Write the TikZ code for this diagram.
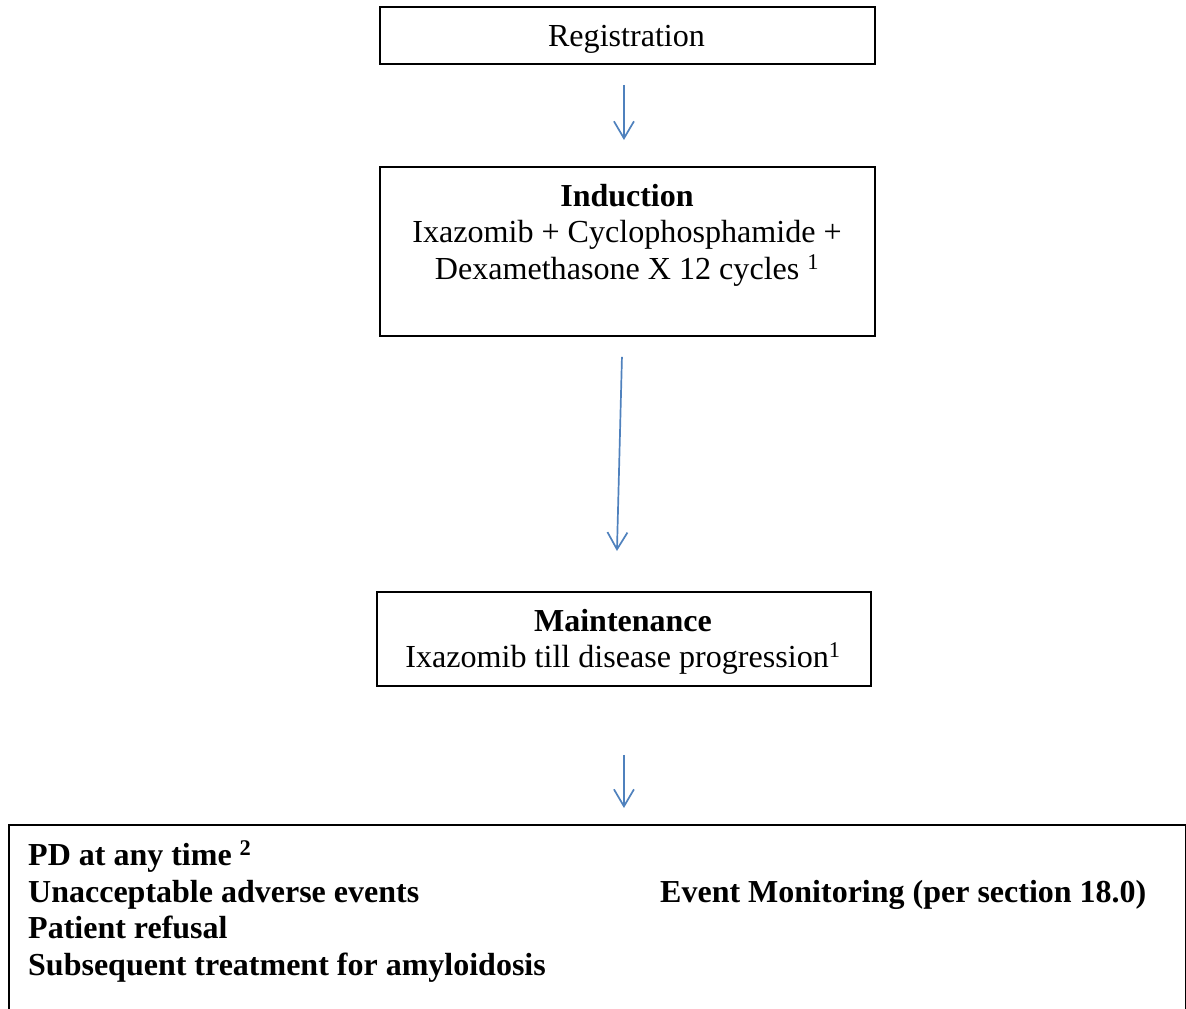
\documentclass[tikz,border=0pt]{standalone}
\usepackage{fontspec}
\setmainfont{Liberation Serif}
\usetikzlibrary{arrows.meta,calc}
\begin{document}
\begin{tikzpicture}[x=1pt,y=-1pt,
  box/.style={draw=black,line width=1.9pt,rectangle,inner sep=0pt},
  txt/.style={inner sep=0pt,anchor=base,font=\fontsize{32.1}{36.7}\selectfont},
  btxt/.style={inner sep=0pt,anchor=base west,font=\fontsize{32}{36.7}\selectfont\bfseries},
  flow/.style={draw={rgb,255:red,79;green,129;blue,189},line width=1.7pt,
    -{Straight Barb[length=17pt,width=20pt,line width=1.7pt]}}]
\path[use as bounding box] (0,0) rectangle (1186,1009);
\clip (0,0) rectangle (1186,1009);
% boxes
\node[box,minimum width=495pt,minimum height=57pt,anchor=north west] (reg) at (379,6) {};
\node[box,minimum width=495pt,minimum height=169pt,anchor=north west] (ind) at (379,166) {};
\node[box,minimum width=494pt,minimum height=94pt,anchor=north west] (maint) at (376,591) {};
\node[box,minimum width=1177pt,minimum height=260pt,anchor=north west] (ev) at (8,824) {};
% texts
\node[txt] (regt) at (626.5,46) {Registration};
\node[txt,font=\fontsize{32}{36.7}\selectfont\bfseries] (indt1) at (627,206) {Induction};
\node[txt] (indt2) at (627,242) {Ixazomib + Cyclophosphamide +};
\node[txt] (indt3) at (627,279) {Dexamethasone X 12 cycles \textsuperscript{1}};
\node[txt,font=\fontsize{32}{36.7}\selectfont\bfseries] (mt1) at (623,631) {Maintenance};
\node[txt] (mt2) at (623,667) {Ixazomib till disease progression\textsuperscript{1}};
\node[btxt] (e1) at (28,865) {PD at any time \textsuperscript{2}};
\node[btxt] (e2) at (28,902) {Unacceptable adverse events};
\node[btxt] (e3) at (28,938) {Patient refusal};
\node[btxt] (e4) at (28,975) {Subsequent treatment for amyloidosis};
\node[btxt] (e5) at (660,902) {Event Monitoring (per section 18.0)};
% arrows
\draw[flow] ($(reg.south)+(-3.5,20)$) -- ($(ind.north)+(-3.5,-26)$);
\draw[flow] ($(ind.south)+(-5.5,20)$) -- ($(maint.north)+(-7,-40)$);
\draw[flow] ($(maint.south)+(0,68)$) -- ($(ev.north)+(26.5,-16)$);
\end{tikzpicture}
\end{document}
